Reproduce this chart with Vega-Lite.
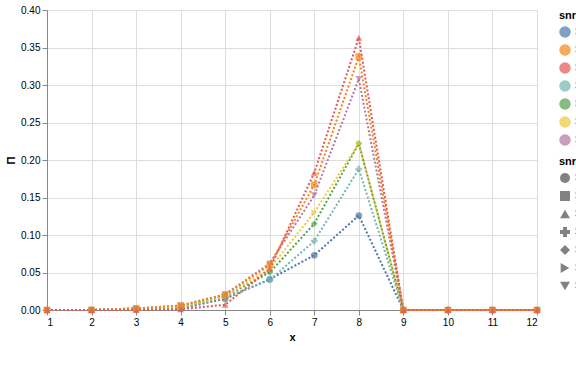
{
  "$schema": "https://vega.github.io/schema/vega-lite/v6.json",
  "width": 490,
  "height": 300,
  "background": "white",
  "data": {"values": [
    {"x":1,"snr":"SNR=0","v":0},{"x":2,"snr":"SNR=0","v":0},{"x":3,"snr":"SNR=0","v":0.001},{"x":4,"snr":"SNR=0","v":0.002},{"x":5,"snr":"SNR=0","v":0.015},{"x":6,"snr":"SNR=0","v":0.041},{"x":7,"snr":"SNR=0","v":0.073},{"x":8,"snr":"SNR=0","v":0.126},{"x":9,"snr":"SNR=0","v":0},{"x":10,"snr":"SNR=0","v":0},{"x":11,"snr":"SNR=0","v":0},{"x":12,"snr":"SNR=0","v":0},
    {"x":1,"snr":"SNR=2","v":0},{"x":2,"snr":"SNR=2","v":0},{"x":3,"snr":"SNR=2","v":0.001},{"x":4,"snr":"SNR=2","v":0.003},{"x":5,"snr":"SNR=2","v":0.017},{"x":6,"snr":"SNR=2","v":0.040},{"x":7,"snr":"SNR=2","v":0.092},{"x":8,"snr":"SNR=2","v":0.188},{"x":9,"snr":"SNR=2","v":0},{"x":10,"snr":"SNR=2","v":0},{"x":11,"snr":"SNR=2","v":0},{"x":12,"snr":"SNR=2","v":0},
    {"x":1,"snr":"SNR=3","v":0},{"x":2,"snr":"SNR=3","v":0},{"x":3,"snr":"SNR=3","v":0.002},{"x":4,"snr":"SNR=3","v":0.004},{"x":5,"snr":"SNR=3","v":0.018},{"x":6,"snr":"SNR=3","v":0.050},{"x":7,"snr":"SNR=3","v":0.115},{"x":8,"snr":"SNR=3","v":0.222},{"x":9,"snr":"SNR=3","v":0},{"x":10,"snr":"SNR=3","v":0},{"x":11,"snr":"SNR=3","v":0},{"x":12,"snr":"SNR=3","v":0},
    {"x":1,"snr":"SNR=4","v":0},{"x":2,"snr":"SNR=4","v":0},{"x":3,"snr":"SNR=4","v":0.002},{"x":4,"snr":"SNR=4","v":0.004},{"x":5,"snr":"SNR=4","v":0.018},{"x":6,"snr":"SNR=4","v":0.055},{"x":7,"snr":"SNR=4","v":0.130},{"x":8,"snr":"SNR=4","v":0.222},{"x":9,"snr":"SNR=4","v":0},{"x":10,"snr":"SNR=4","v":0},{"x":11,"snr":"SNR=4","v":0},{"x":12,"snr":"SNR=4","v":0},
    {"x":1,"snr":"SNR=7","v":0},{"x":2,"snr":"SNR=7","v":0},{"x":3,"snr":"SNR=7","v":0.002},{"x":4,"snr":"SNR=7","v":0.006},{"x":5,"snr":"SNR=7","v":0.021},{"x":6,"snr":"SNR=7","v":0.062},{"x":7,"snr":"SNR=7","v":0.153},{"x":8,"snr":"SNR=7","v":0.308},{"x":9,"snr":"SNR=7","v":0},{"x":10,"snr":"SNR=7","v":0},{"x":11,"snr":"SNR=7","v":0},{"x":12,"snr":"SNR=7","v":0},
    {"x":1,"snr":"SNR=10","v":0},{"x":2,"snr":"SNR=10","v":0},{"x":3,"snr":"SNR=10","v":0.002},{"x":4,"snr":"SNR=10","v":0.006},{"x":5,"snr":"SNR=10","v":0.020},{"x":6,"snr":"SNR=10","v":0.060},{"x":7,"snr":"SNR=10","v":0.167},{"x":8,"snr":"SNR=10","v":0.338},{"x":9,"snr":"SNR=10","v":0},{"x":10,"snr":"SNR=10","v":0},{"x":11,"snr":"SNR=10","v":0},{"x":12,"snr":"SNR=10","v":0},
    {"x":1,"snr":"SNR=15","v":0},{"x":2,"snr":"SNR=15","v":0},{"x":3,"snr":"SNR=15","v":0},{"x":4,"snr":"SNR=15","v":0.001},{"x":5,"snr":"SNR=15","v":0.007},{"x":6,"snr":"SNR=15","v":0.055},{"x":7,"snr":"SNR=15","v":0.183},{"x":8,"snr":"SNR=15","v":0.363},{"x":9,"snr":"SNR=15","v":0},{"x":10,"snr":"SNR=15","v":0},{"x":11,"snr":"SNR=15","v":0},{"x":12,"snr":"SNR=15","v":0}
  ]},
  "encoding": {
    "x": {"field": "x", "type": "quantitative", "scale": {"domain": [1, 12], "nice": false, "zero": false}},
    "y": {"field": "v", "type": "quantitative", "scale": {"domain": [0, 0.4], "nice": false}, "axis": {"title": "Π"}},
    "color": {"field": "snr", "type": "nominal"}
  },
  "layer": [
    {"mark": {"type": "line", "strokeDash": [2, 2], "strokeWidth": 2}},
    {"mark": {"type": "point", "filled": true, "size": 45}, "encoding": {"shape": {"field": "snr", "type": "nominal"}}}
  ]
}
